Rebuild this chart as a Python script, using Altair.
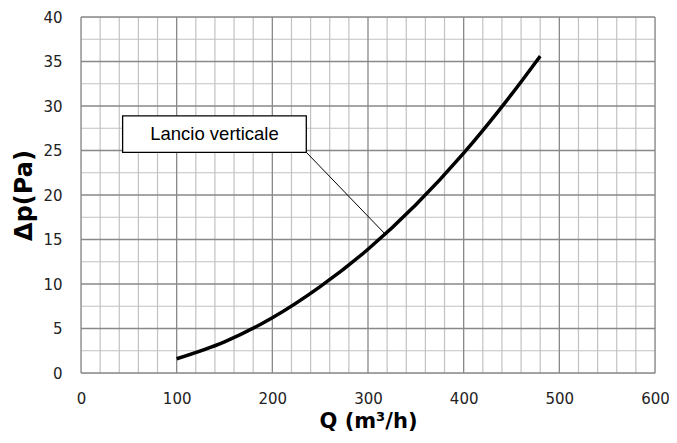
import altair as alt
import pandas as pd

# data
q_vals = [100, 150, 200, 250, 300, 350, 400, 450, 480]
dp_vals = [1.6, 3.5, 6.2, 9.7, 13.9, 18.9, 24.7, 31.3, 35.6]

x_major = [0, 100, 200, 300, 400, 500, 600]
x_minor = [v for v in range(0, 601, 20) if v % 100 != 0]
y_major = [0, 5, 10, 15, 20, 25, 30, 35, 40]
y_minor = [2.5 + 5 * i for i in range(8)]

label_text = "Lancio verticale"
box = {"x": 43.5, "x2": 235.5, "y": 28.9, "y2": 24.8}
leader = {"x": 235.5, "y": 24.8, "x2": 318, "y2": 15.6}

curve_df = pd.DataFrame({"Q": q_vals, "dp": dp_vals})

xs = alt.Scale(domain=[0, 600], nice=False, zero=False)
ys = alt.Scale(domain=[0, 40], nice=False, zero=False)

xaxis = alt.Axis(values=x_major, grid=False, ticks=False, domain=False,
                 labelFont="DejaVu Sans", labelFontSize=15, labelColor="#222",
                 labelPadding=18, title="Q (m³/h)", titleFont="DejaVu Sans",
                 titleFontSize=21, titleFontWeight="bold", titleColor="#000",
                 titlePadding=4, labelFlush=False)
yaxis = alt.Axis(values=y_major, grid=False, ticks=False, domain=False,
                 labelFont="DejaVu Sans", labelFontSize=15, labelColor="#222",
                 labelPadding=19, title="Δp(Pa)", titleFont="DejaVu Sans",
                 titleFontSize=24, titleFontWeight="bold", titleColor="#000",
                 titlePadding=6, labelFlush=False)

minor_v = alt.Chart(pd.DataFrame({"x": x_minor})).mark_rule(
    color="#c2c2c2", strokeWidth=1.2).encode(
    x=alt.X("x:Q", scale=xs, axis=xaxis))
minor_h = alt.Chart(pd.DataFrame({"y": y_minor})).mark_rule(
    color="#c2c2c2", strokeWidth=1.2).encode(
    y=alt.Y("y:Q", scale=ys, axis=yaxis))
major_v = alt.Chart(pd.DataFrame({"x": x_major})).mark_rule(
    color="#888888", strokeWidth=1.3).encode(x=alt.X("x:Q", scale=xs))
major_h = alt.Chart(pd.DataFrame({"y": y_major})).mark_rule(
    color="#888888", strokeWidth=1.3).encode(y=alt.Y("y:Q", scale=ys))

curve = alt.Chart(curve_df).mark_line(
    color="#000", strokeWidth=3.5, interpolate="monotone").encode(
    x=alt.X("Q:Q", scale=xs), y=alt.Y("dp:Q", scale=ys))

lead = alt.Chart(pd.DataFrame([leader])).mark_rule(
    color="#000", strokeWidth=1).encode(
    x=alt.X("x:Q", scale=xs), y=alt.Y("y:Q", scale=ys),
    x2="x2:Q", y2="y2:Q")

rect = alt.Chart(pd.DataFrame([box])).mark_rect(
    fill="white", stroke="#000", strokeWidth=1.3).encode(
    x=alt.X("x:Q", scale=xs), x2="x2:Q",
    y=alt.Y("y:Q", scale=ys), y2="y2:Q")

txt_df = pd.DataFrame({"x": [(box["x"] + box["x2"]) / 2],
                       "y": [(box["y"] + box["y2"]) / 2],
                       "t": [label_text]})
txt = alt.Chart(txt_df).mark_text(
    font="Liberation Sans", fontSize=18.5, color="#000",
    align="center", baseline="middle").encode(
    x=alt.X("x:Q", scale=xs), y=alt.Y("y:Q", scale=ys), text="t:N")

chart = alt.layer(minor_v, minor_h, major_v, major_h, curve, lead, rect, txt).properties(
    width=574, height=356,
    autosize=alt.AutoSizeParams(type="none"),
    padding={"left": 73, "top": 9, "right": 14, "bottom": 62},
).configure_view(stroke=None).configure(background="white")

chart.save("out.html", embed_options={"renderer": "svg", "actions": False})
